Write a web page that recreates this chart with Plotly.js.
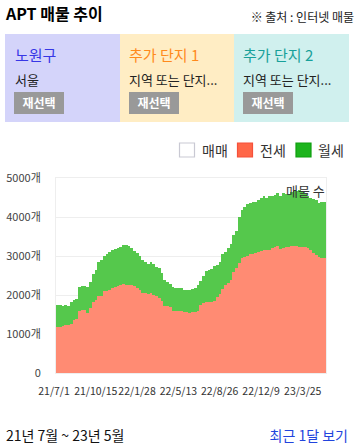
<!DOCTYPE html>
<html><head><meta charset="utf-8">
<script src="https://cdn.plot.ly/plotly-3.0.1.min.js"></script>
<style>
html,body{margin:0;padding:0;width:358px;height:447px;overflow:hidden;background:#fff;font-family:"Noto Sans CJK KR","Noto Sans",sans-serif;}
#chart{position:absolute;left:0;top:0;width:358px;height:447px;}
.abs{position:absolute;white-space:nowrap;}
.box{position:absolute;top:34px;height:88px;}
.btn{position:absolute;width:50px;height:22px;background:#999;color:#fff;font-weight:bold;font-size:12px;line-height:22px;text-align:center;}
</style></head><body>
<div id="chart"></div>
<div class="abs" style="left:6px;top:1px;font-size:16px;font-weight:bold;color:#000;">APT 매물 추이</div>
<div class="abs" style="right:4px;top:8px;font-size:12px;color:#222;">※ 출처 : 인터넷 매물</div>
<div class="box" style="left:5px;width:115px;background:#d4d4fa;">
  <div class="abs" style="left:10px;top:10px;font-size:15px;color:#3737e6;">노원구</div>
  <div class="abs" style="left:10px;top:36px;font-size:13px;color:#222;">서울</div>
  <div class="btn" style="left:9px;top:58px;">재선택</div>
</div>
<div class="box" style="left:120px;width:114px;background:#ffedc4;">
  <div class="abs" style="left:9px;top:10px;font-size:15px;color:#ff8a1c;">추가 단지 1</div>
  <div class="abs" style="left:9px;top:36px;font-size:13px;color:#222;">지역 또는 단지...</div>
  <div class="btn" style="left:9px;top:58px;">재선택</div>
</div>
<div class="box" style="left:234px;width:115px;background:#d0f0ee;">
  <div class="abs" style="left:9px;top:10px;font-size:15px;color:#17a09a;">추가 단지 2</div>
  <div class="abs" style="left:9px;top:36px;font-size:13px;color:#222;">지역 또는 단지...</div>
  <div class="btn" style="left:9px;top:58px;">재선택</div>
</div>
<div class="abs" style="left:6px;top:425px;font-size:14px;color:#111;">21년 7월 ~ 23년 5월</div>
<div class="abs" style="right:10px;top:425px;font-size:14px;color:#2244dd;">최근 1달 보기</div>
<script>
// weekly listing counts, starting 2021-07-01
const startDate = '2021-07-01';
const endDate = '2023-05-18';
const jeonse = [1171,1171,1205,1231,1231,1265,1368,1376,1598,1615,1615,1547,1675,1812,1880,1966,1983,2094,2103,2137,2171,2197,2222,2248,2282,2256,2256,2248,2222,2180,2120,2051,2060,2026,2051,2009,1983,1932,1838,1726,1709,1692,1590,1581,1590,1590,1556,1556,1538,1556,1556,1590,1740,1795,1812,1829,1829,1855,1940,2034,2154,2265,2308,2393,2581,2692,2820,2940,2974,3009,3060,3060,3077,3094,3120,3162,3145,3162,3197,3231,3250,3180,3214,3231,3231,3265,3248,3248,3231,3231,3222,3197,3162,3077,3034,2974,2940,2940];
const wolse = [564,564,521,521,478,547,495,521,607,624,624,650,650,735,770,872,923,915,957,957,974,982,992,983,1000,1026,992,966,915,897,871,855,790,760,795,794,735,760,726,667,624,582,615,598,589,589,564,564,582,598,623,658,630,701,795,821,838,880,838,821,897,829,897,923,966,940,1180,1231,1282,1316,1299,1325,1316,1333,1376,1368,1351,1368,1350,1342,1365,1367,1401,1367,1367,1367,1419,1419,1459,1419,1398,1350,1334,1385,1393,1385,1436,1436];
const tickDates = ['2021-07-01','2021-10-15','2022-01-28','2022-05-13','2022-08-26','2022-12-09','2023-03-25'];
const tickLabels = ['21/7/1','21/10/15','22/1/28','22/5/13','22/8/26','22/12/9','23/3/25'];
const yTickVals = [0,1000,2000,3000,4000,5000];
const yTickLabels = ['0','1000개','2000개','3000개','4000개','5000개'];
const legendNames = ['매매','전세','월세'];

const DAY = 86400000;
const weeks = [];
const s = new Date(startDate + 'T00:00:00Z').getTime();
for (let i = 0; i < jeonse.length; i++) {
  weeks.push(new Date(s + i * 7 * DAY).toISOString().slice(0, 10));
}

const common = {type:'bar', x:weeks, offset:0, width:7*DAY, hoverinfo:'skip', showlegend:false};
const traces = [
  Object.assign({}, common, {y:jeonse, name:'전세', marker:{color:'#ff8b73', line:{width:0}}}),
  Object.assign({}, common, {y:wolse, name:'월세', marker:{color:'#55c84c', line:{width:0}}})
];

function px2x(p){return (p-56)/270;}
function py2y(p){return (373-p)/195;}
const legendBoxes = [
  {x0:179.5, fill:'#ffffff', line:'#c9c9d3'},
  {x0:237.5, fill:'#ff6748', line:'#f5503a'},
  {x0:296, fill:'#1db41d', line:'#0f9f0f'}
];
const shapes = legendBoxes.map(b => ({type:'rect', xref:'paper', yref:'paper',
  x0:px2x(b.x0), x1:px2x(b.x0+15), y0:py2y(157), y1:py2y(143),
  fillcolor:b.fill, line:{color:b.line, width:1.2}}));
const annotations = legendNames.map((n,i) => ({xref:'paper', yref:'paper',
  x:px2x(legendBoxes[i].x0+20), y:py2y(150), text:n, showarrow:false,
  xanchor:'left', yanchor:'middle', font:{size:14, color:'#333'}}));
annotations.push({xref:'paper', yref:'paper', x:px2x(327), y:py2y(190), text:'매물 수',
  showarrow:false, xanchor:'right', yanchor:'middle', font:{size:13, color:'#333'}});

const layout = {
  width:358, height:447,
  margin:{l:56, r:32, t:178, b:74},
  paper_bgcolor:'rgba(0,0,0,0)', plot_bgcolor:'#fff',
  barmode:'stack', bargap:0,
  font:{family:'"Noto Sans CJK KR","Noto Sans",sans-serif', color:'#333'},
  xaxis:{type:'date', range:[startDate, endDate], tickvals:tickDates, ticktext:tickLabels,
    tickangle:0, tickfont:{size:10.5, color:'#333'}, showgrid:false, zeroline:false,
    showline:true, linecolor:'#eeeeee', mirror:true, layer:'below traces',
    ticks:'', ticklabelstandoff:8, ticklabelshift:-2, fixedrange:true},
  yaxis:{range:[0,5000], tickvals:yTickVals, ticktext:yTickLabels,
    tickfont:{size:11, color:'#444'}, showgrid:true, gridcolor:'#eeeeee', zeroline:false,
    showline:true, linecolor:'#eeeeee', mirror:true, layer:'below traces',
    ticks:'', ticklabelstandoff:12, fixedrange:true},
  shapes:shapes, annotations:annotations
};
Plotly.newPlot('chart', traces, layout, {staticPlot:true, displayModeBar:false});
</script>
</body></html>
